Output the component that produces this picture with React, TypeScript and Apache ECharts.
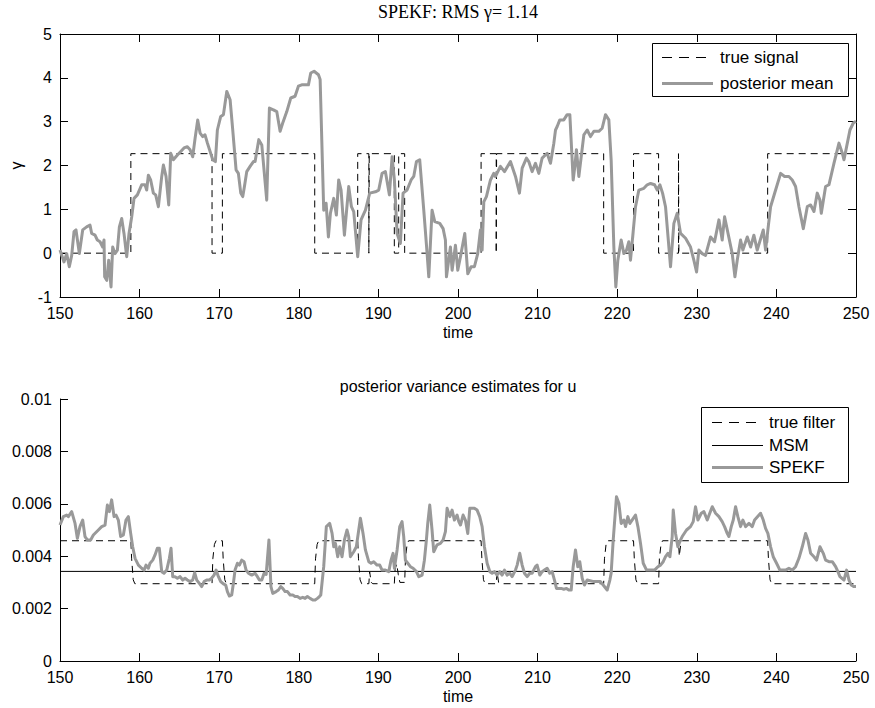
import React, { useEffect, useRef } from "react";
import * as echarts from "echarts";

// ---------- top panel: true signal (step process) ----------
const signalT = [150, 158.9, 158.9, 169.1, 169.1, 170.4, 170.4, 182.0, 182.0, 187.4, 187.4, 188.8, 188.8, 188.85, 188.85, 192.0, 192.0, 192.55, 192.55, 193.3, 193.3, 202.9, 202.9, 204.8, 204.8, 204.85, 204.85, 218.3, 218.3, 222.05, 222.05, 225.2, 225.2, 227.7, 227.7, 227.75, 227.75, 238.9, 238.9, 250];
const signalV = [0, 0, 2.27, 2.27, 0, 0, 2.27, 2.27, 0, 0, 2.27, 2.27, 0, 0, 2.27, 2.27, 0, 0, 2.27, 2.27, 0, 0, 2.27, 2.27, 0, 0, 2.27, 2.27, 0, 0, 2.27, 2.27, 0, 0, 2.27, 2.27, 0, 0, 2.27, 2.27];

// ---------- top panel: posterior mean ----------
const meanT = [
  150.00, 150.50, 150.84, 151.17, 151.47, 151.76, 152.01, 152.43, 152.85, 153.35, 153.77, 153.98, 154.40, 154.69, 155.03, 155.36, 155.53, 155.61, 155.87, 156.12,
  156.41, 156.62, 156.91, 157.21, 157.46, 157.75, 158.04, 158.38, 158.67, 159.01, 159.30, 159.72, 160.26, 160.68, 160.89, 161.10, 161.39, 161.73, 162.02, 162.36,
  162.78, 162.99, 163.32, 163.66, 163.91, 164.24, 164.75, 165.17, 165.58, 166.00, 166.34, 166.67, 166.97, 167.30, 167.60, 167.93, 168.22, 168.52, 169.19, 169.52,
  169.77, 170.19, 170.53, 170.95, 171.37, 171.70, 172.12, 172.41, 172.71, 172.96, 173.17, 173.46, 173.88, 174.30, 174.51, 174.97, 175.35, 175.97, 176.31, 176.81,
  177.23, 177.65, 177.98, 178.49, 178.99, 179.53, 179.95, 180.37, 181.21, 181.50, 181.92, 182.47, 182.68,
  183.13, 183.43, 183.72, 183.97, 184.39, 184.72, 185.01, 185.31, 185.73, 186.27, 186.61, 186.90, 187.40, 187.82, 188.37, 188.91, 189.62, 190.04, 190.46, 190.88,
  191.38, 191.72, 192.01, 192.35, 192.76, 193.10, 193.60, 194.11, 194.44, 194.78, 195.19, 195.70, 196.12, 196.33, 196.74, 197.08, 197.71, 198.13, 198.42, 198.55,
  199.05, 199.26, 199.68, 199.97, 200.31, 200.85, 201.23, 201.65, 202.06, 202.48, 202.82, 203.03, 203.24, 203.57, 204.08, 204.49, 204.70, 205.33, 205.84, 206.59,
  207.22, 207.72, 208.06, 208.60, 208.89, 209.31, 209.73, 210.15, 210.57, 211.20, 211.62, 212.04, 212.25, 212.46, 212.79, 213.29, 213.71, 214.05, 214.47, 214.68,
  214.88, 215.18,
  215.81, 216.23, 216.65, 217.07, 217.69, 218.11, 218.53, 218.95, 219.24, 219.58, 219.83, 220.08, 220.50, 220.84, 221.17, 221.46, 221.67, 222.30, 222.72, 223.35,
  223.77, 224.19, 224.69, 225.03, 225.36, 225.70, 226.07, 226.70, 227.12, 227.54, 227.96, 228.59, 229.21, 229.63, 229.97, 230.26, 230.68, 231.10, 231.73, 232.23,
  232.78, 233.19, 233.49, 234.45, 234.79, 235.08, 235.50, 235.79, 236.34, 236.76, 237.17, 237.59, 238.35, 238.64, 238.93, 239.27, 239.90, 240.53, 241.03, 241.57,
  241.99, 242.41, 242.83, 243.38, 243.88, 244.30, 244.72, 245.13, 245.47, 245.64, 246.18, 246.60, 247.23, 247.86, 248.28, 248.49, 248.91, 249.24, 249.66, 250.00
];
const meanV = [
  0.07, -0.20, -0.01, -0.31, -0.05, 0.49, 0.53, -0.01, 0.53, 0.60, 0.64, 0.45, 0.41, 0.30, 0.26, 0.14, 0.30, -0.54, -0.62, -0.16,
  -0.77, 0.14, -0.01, 0.07, 0.60, 0.79, 0.45, -0.08, 0.45, 0.83, 1.25, 1.33, 1.56, 1.56, 1.44, 1.78, 1.67, 1.37, 1.33, 1.06,
  1.75, 2.01, 1.75, 1.10, 2.28, 2.13, 2.24, 2.32, 2.40, 2.43, 2.36, 2.20, 2.62, 3.04, 2.74, 2.66, 2.70, 2.51, 2.13, 2.09,
  2.81, 3.12, 3.16, 3.69, 3.50, 2.81, 1.90, 1.82, 1.37, 1.29, 1.52, 1.86, 1.98, 2.09, 2.09, 2.59, 2.47, 1.21, 3.31, 3.27,
  3.23, 2.78, 2.97, 3.23, 3.54, 3.58, 3.81, 3.84, 3.84, 4.11, 4.15, 4.07, 3.96,
  0.98, 1.14, 0.37, 0.91, 1.25, 0.87, 1.67, 1.44, 0.41, 1.52, 1.06, 0.95, -0.08, 0.76, 0.98, 1.37, 1.40, 1.44, 1.82, 1.86,
  1.33, 2.20, 1.67, 0.45, 0.22, 1.37, 1.44, 1.67, 1.75, 2.09, 2.13, 0.98, -0.01, -0.54, 0.98, 0.72, 0.68, 0.56, 0.30, -0.54,
  0.14, -0.39, 0.18, -0.39, -0.08, 0.45, -0.47, -0.31, -0.31, -0.01, 0.53, 0.07, 1.17, 1.29, 1.67, 1.82, 1.75, 1.98, 1.86, 2.09,
  1.75, 1.37, 1.94, 2.17, 2.09, 1.86, 2.05, 1.82, 2.17, 2.28, 2.05, 2.51, 2.81, 2.89, 3.04, 3.04, 3.16, 3.16, 1.67, 1.98,
  2.36, 1.75,
  2.70, 2.81, 2.66, 2.78, 2.78, 2.85, 3.16, 3.04, 2.13, 0.14, -0.77, -0.16, 0.30, -0.01, 0.07, 0.26, -0.16, 1.06, 1.44, 1.48,
  1.56, 1.59, 1.56, 1.44, 1.56, 1.37, 1.06, -0.31, 0.68, 0.91, 0.45, 0.34, 0.14, -0.16, -0.43, 0.07, -0.01, -0.05, 0.37, 0.26,
  0.76, 0.30, 0.83, -0.01, -0.54, -0.16, 0.30, 0.07, 0.37, 0.14, 0.41, 0.07, 0.53, 0.07, 0.53, 1.06, 1.44, 1.82, 1.75, 1.75,
  1.67, 1.52, 1.06, 0.56, 1.06, 1.10, 0.95, 1.37, 1.21, 0.91, 1.52, 1.56, 2.05, 2.51, 2.28, 2.13, 2.51, 2.81, 2.97, 3.01
];

// ---------- bottom panel (values in units of 1e-3) ----------
const filterT = [150, 158.9, 159.0, 159.2, 159.4, 169.1, 169.2, 169.4, 169.6, 170.4, 170.5, 170.7, 170.9, 182.0, 182.1, 182.3, 182.5, 187.4, 187.5, 187.7, 187.9,
  188.8, 188.9, 189.1, 189.3, 192.0, 192.1, 192.3, 192.5, 192.7, 193.3, 193.4, 193.6, 193.8, 202.9, 203.0, 203.2, 203.4, 204.8, 204.9, 205.1, 205.3,
  218.3, 218.4, 218.6, 218.8, 222.05, 222.15, 222.35, 222.55, 225.2, 225.3, 225.5, 225.7, 227.7, 227.8, 228.0, 228.2, 238.9, 239.0, 239.2, 239.4, 250];
const filterV = [4.59, 4.59, 3.9, 3.1, 2.95, 2.95, 3.9, 4.45, 4.59, 4.59, 3.9, 3.1, 2.95, 2.95, 3.9, 4.45, 4.59, 4.59, 3.9, 3.1, 2.95,
  2.95, 3.4, 3.0, 2.95, 2.95, 3.5, 3.7, 3.3, 3.0, 3.0, 3.9, 4.45, 4.59, 4.59, 3.9, 3.1, 2.95, 2.95, 3.4, 3.0, 2.95,
  2.95, 3.9, 4.45, 4.59, 4.59, 3.9, 3.1, 2.95, 2.95, 3.9, 4.45, 4.59, 4.59, 4.0, 4.5, 4.59, 4.59, 3.9, 3.1, 2.95, 2.95];
const msmT = [150, 250];
const msmV = [3.42, 3.42];

const spekfT = [
  150.00, 150.42, 150.84, 151.05, 151.47, 151.89, 152.18, 152.51, 152.85, 153.14, 153.43, 153.85, 154.19, 154.82, 155.24, 155.66, 155.95, 156.20, 156.49, 156.79,
  157.04, 157.33, 157.62, 157.96, 158.29, 158.59, 158.88, 159.13, 159.43, 159.85, 160.26, 160.56, 160.81, 161.10, 161.31, 161.65, 161.94, 162.23, 162.48, 162.78,
  163.07, 163.41, 163.74, 163.95, 164.16, 164.45, 164.75, 165.08, 165.42, 165.71, 166.00, 166.34, 166.67, 166.92, 167.18, 167.51, 167.80, 168.10, 168.43, 168.77,
  169.06, 169.35, 169.61, 169.90, 170.19, 170.53, 170.82, 171.03, 171.28, 171.57, 171.78, 171.99, 172.29, 172.54, 172.83, 173.12, 173.38, 173.67, 174.09, 174.51,
  174.80, 175.05, 175.35, 175.64, 175.90, 176.25, 176.50, 176.73, 177.15, 177.44, 177.73, 177.98, 178.28, 178.57, 178.91, 179.24, 179.53, 179.83, 180.16, 180.50,
  180.79, 181.08, 181.42, 181.76, 182.05, 182.34, 182.59, 182.76, 183.13, 183.46, 183.88, 184.18, 184.39, 184.60, 184.89, 185.14, 185.43, 185.73, 186.06, 186.27,
  186.48, 186.90, 187.23, 187.74, 188.07, 188.37, 188.79, 189.08, 189.41, 189.83, 190.17, 190.46, 190.88, 191.30, 191.59, 191.84, 192.01, 192.35, 192.68, 192.97,
  193.18, 193.39, 193.69, 194.02, 194.36, 194.78, 195.07, 195.49, 195.78, 196.03, 196.20, 196.45, 196.74, 196.95, 197.37, 197.79, 198.13, 198.42, 198.63, 198.97,
  199.26, 199.55, 199.89, 200.10, 200.31, 200.64, 200.93, 201.23, 201.48, 201.77, 202.06, 202.40, 202.73, 203.03, 203.32, 203.66, 204.00, 204.29, 204.58, 204.91,
  205.25, 205.54, 205.84, 206.17, 206.50, 206.80, 207.22, 207.43, 207.76, 208.06, 208.35, 208.69, 209.02, 209.31, 209.73, 209.94, 210.28, 210.57, 210.86, 211.20,
  211.53, 211.83, 212.12, 212.37, 212.67, 212.96, 213.29, 213.63, 213.92, 214.22, 214.47, 214.76, 215.05, 215.30, 215.60, 215.89, 216.23, 217.07, 217.90, 218.24,
  218.74, 219.08, 219.24, 219.50, 219.91, 220.21, 220.50, 220.84, 221.05, 221.34, 221.59, 222.30, 222.60, 222.93, 223.27, 223.69, 224.19, 224.69, 225.11, 225.44,
  225.78, 226.07, 226.37, 226.62, 226.91, 227.04, 227.33, 227.62, 227.96, 228.17, 228.71, 229.21, 229.55, 229.84, 230.14, 230.56, 230.89, 231.31, 231.94, 232.36,
  232.78, 233.19, 233.49, 233.82, 234.03, 234.33, 234.58, 234.87, 235.16, 235.50, 235.79, 236.13, 236.55, 236.97, 237.26, 238.01, 238.35, 238.64, 238.93, 239.27,
  239.60, 240.02, 240.44, 240.74, 241.16, 241.57, 241.99, 242.41, 242.83, 243.25, 243.67, 243.96, 244.30, 244.72, 245.05, 245.47, 245.89, 246.18, 246.60, 247.02,
  247.44, 247.73, 247.98, 248.49, 248.82, 249.12, 249.41, 249.75, 250.00
];
const spekfV = [
  5.19, 5.51, 5.57, 5.51, 5.70, 5.25, 4.68, 5.13, 5.38, 4.75, 4.62, 4.62, 4.81, 5.00, 5.13, 5.19, 5.95, 5.70, 6.15, 5.51,
  5.57, 5.38, 4.75, 4.81, 5.38, 5.51, 4.87, 4.36, 3.92, 3.66, 3.54, 3.47, 3.66, 3.54, 3.73, 3.85, 4.05, 4.30, 4.30, 3.41,
  3.35, 3.47, 3.92, 4.30, 3.22, 3.22, 3.16, 3.22, 3.09, 3.16, 3.09, 3.03, 3.09, 3.37, 3.09, 2.96, 2.84, 3.03, 3.09, 3.09,
  3.16, 3.28, 3.47, 3.22, 3.03, 2.94, 2.90, 2.65, 2.48, 2.52, 2.96, 3.47, 3.73, 3.66, 3.85, 3.79, 3.47, 3.35, 3.28, 3.35,
  3.22, 3.09, 3.09, 3.35, 3.30, 4.62, 2.84, 2.58, 2.65, 2.71, 2.84, 2.77, 2.65, 2.65, 2.52, 2.52, 2.46, 2.46, 2.39, 2.43,
  2.39, 2.46, 2.39, 2.33, 2.33, 2.39, 2.46, 2.52, 3.60, 5.13, 5.25, 4.87, 4.36, 4.49, 3.98, 4.36, 3.98, 4.62, 5.00, 4.75,
  3.98, 4.17, 4.36, 5.45, 4.87, 4.24, 3.79, 3.73, 3.79, 3.66, 3.66, 3.47, 3.47, 3.41, 3.85, 4.11, 3.54, 4.24, 5.13, 5.32,
  4.75, 3.85, 3.73, 3.60, 3.54, 3.41, 3.22, 3.28, 3.85, 4.62, 5.25, 5.95, 5.00, 4.17, 4.43, 4.49, 4.62, 4.94, 5.83, 5.51,
  5.76, 5.38, 5.57, 5.32, 5.19, 5.57, 5.38, 4.87, 5.83, 5.83, 5.83, 5.76, 5.51, 5.13, 4.36, 3.73, 3.41, 3.35, 3.41, 3.28,
  3.41, 3.28, 3.47, 3.28, 3.35, 3.22, 3.47, 3.66, 4.11, 3.66, 3.35, 3.22, 3.35, 3.35, 3.60, 3.66, 3.28, 3.41, 3.47, 3.54,
  3.35, 3.41, 3.09, 2.77, 2.77, 2.77, 2.74, 2.77, 2.71, 2.71, 3.60, 4.24, 3.60, 3.79, 3.16, 2.90, 3.09, 3.03, 3.03, 2.90,
  2.71, 3.09, 3.35, 4.62, 6.27, 6.02, 5.25, 5.38, 5.13, 5.51, 5.25, 5.57, 5.13, 4.49, 3.73, 3.47, 3.47, 3.47, 3.60, 3.66,
  3.79, 3.98, 4.11, 3.98, 4.75, 5.76, 4.87, 4.36, 4.62, 4.75, 5.00, 5.13, 5.32, 5.89, 5.38, 5.64, 5.70, 5.38, 5.89, 5.64,
  5.51, 5.32, 5.13, 4.87, 4.75, 5.13, 5.38, 5.89, 5.51, 5.13, 5.38, 5.13, 5.25, 5.13, 5.38, 5.64, 5.38, 5.06, 4.87, 4.36,
  3.98, 3.73, 3.47, 3.47, 3.47, 3.54, 3.47, 3.60, 3.92, 4.36, 4.87, 4.62, 4.11, 3.98, 3.85, 4.36, 4.11, 3.85, 3.79, 3.79,
  3.60, 3.41, 3.22, 3.09, 3.47, 3.09, 2.90, 2.84, 2.84
];

const xTicks = { min: 150, max: 250, interval: 10 };
const topY = { min: -1, max: 5, interval: 1 };
const botY = { min: 0, max: 0.01, interval: 0.002 };

const SANS = '"Liberation Sans", Arial, Helvetica, sans-serif';
const SERIF = '"Liberation Serif", "Times New Roman", serif';
const GRAY = "#999999";

function pairs(t: number[], v: number[], scale = 1) {
  return t.map((x, i) => [x, v[i] * scale]);
}

export default function App() {
  const ref = useRef<HTMLDivElement>(null);

  useEffect(() => {
    if (!ref.current) return;
    const chart = echarts.init(ref.current, undefined, { renderer: "svg" });

    const axisLine = { show: true, onZero: false, lineStyle: { color: "#000", width: 1 } };
    const tick = { show: true, inside: true, length: 8, lineStyle: { color: "#000", width: 1 } };
    const label = { color: "#000", fontSize: 16, fontFamily: SANS, margin: 8 };
    const legendFont = `17px ${SANS}`;
    const textStyle = (text: string, font: string, center = false) => ({
      text, font, fill: "#000",
      textAlign: center ? "center" : "left", align: center ? "center" : "left",
      textVerticalAlign: "middle", verticalAlign: "middle",
    });

    const option: any = {
      animation: false,
      backgroundColor: "#fff",
      grid: [
        { left: 60, top: 34, width: 796, height: 263, containLabel: false },
        { left: 60, top: 399, width: 796, height: 262, containLabel: false },
      ],
      xAxis: [
        {
          type: "value", gridIndex: 0, position: "bottom", ...xTicks,
          axisLine, axisTick: tick, axisLabel: label, splitLine: { show: false },
          name: "time", nameLocation: "middle", nameGap: 27,
          nameTextStyle: { color: "#000", fontSize: 16, fontFamily: SANS },
        },
        {
          type: "value", gridIndex: 0, position: "top", ...xTicks,
          axisLine, axisTick: tick, axisLabel: { show: false }, splitLine: { show: false },
        },
        {
          type: "value", gridIndex: 1, position: "bottom", ...xTicks,
          axisLine, axisTick: tick, axisLabel: label, splitLine: { show: false },
          name: "time", nameLocation: "middle", nameGap: 27,
          nameTextStyle: { color: "#000", fontSize: 16, fontFamily: SANS },
        },
      ],
      yAxis: [
        {
          type: "value", gridIndex: 0, position: "left", ...topY,
          axisLine, axisTick: tick, axisLabel: label, splitLine: { show: false },
          name: "γ", nameLocation: "middle", nameGap: 36, nameRotate: 90,
          nameTextStyle: { color: "#000", fontSize: 16, fontFamily: SANS },
        },
        {
          type: "value", gridIndex: 0, position: "right", ...topY,
          axisLine, axisTick: tick, axisLabel: { show: false }, splitLine: { show: false },
        },
        {
          type: "value", gridIndex: 1, position: "left", ...botY,
          axisLine, axisTick: tick,
          axisLabel: { ...label, formatter: (v: number) => String(parseFloat(v.toFixed(4))) },
          splitLine: { show: false },
        },
      ],
      series: [
        {
          type: "line", xAxisIndex: 0, yAxisIndex: 0, data: pairs(signalT, signalV),
          showSymbol: false, symbol: "none", silent: true,
          lineStyle: { color: "#000", width: 1, type: [7, 5] }, z: 2,
        },
        {
          type: "line", xAxisIndex: 0, yAxisIndex: 0, data: pairs(meanT, meanV),
          showSymbol: false, symbol: "none", silent: true,
          lineStyle: { color: GRAY, width: 3, join: "round" }, z: 3,
        },
        {
          type: "line", xAxisIndex: 2, yAxisIndex: 2, data: pairs(filterT, filterV, 0.001),
          showSymbol: false, symbol: "none", silent: true,
          lineStyle: { color: "#000", width: 1, type: [7, 5] }, z: 2,
        },
        {
          type: "line", xAxisIndex: 2, yAxisIndex: 2, data: pairs(msmT, msmV, 0.001),
          showSymbol: false, symbol: "none", silent: true,
          lineStyle: { color: "#000", width: 1 }, z: 2,
        },
        {
          type: "line", xAxisIndex: 2, yAxisIndex: 2, data: pairs(spekfT, spekfV, 0.001),
          showSymbol: false, symbol: "none", silent: true,
          lineStyle: { color: GRAY, width: 3, join: "round" }, z: 3,
        },
      ],
      graphic: [
        { type: "text", x: 458, y: 12, z: 100, style: textStyle("SPEKF: RMS γ= 1.14", `18px ${SERIF}`, true) },
        { type: "text", x: 458, y: 386, z: 100, style: textStyle("posterior variance estimates for u", `16px ${SANS}`, true) },
        // top legend
        { type: "rect", z: 100, shape: { x: 652.5, y: 43.5, width: 196, height: 53 }, style: { fill: "#fff", stroke: "#000", lineWidth: 1 } },
        { type: "line", z: 101, shape: { x1: 662, y1: 57.5, x2: 713, y2: 57.5 }, style: { stroke: "#000", lineWidth: 1, lineDash: [10, 7] } },
        { type: "line", z: 101, shape: { x1: 662, y1: 83.5, x2: 713, y2: 83.5 }, style: { stroke: GRAY, lineWidth: 3 } },
        { type: "text", z: 101, x: 720, y: 57, style: textStyle("true signal", legendFont) },
        { type: "text", z: 101, x: 720, y: 83, style: textStyle("posterior mean", legendFont) },
        // bottom legend
        { type: "rect", z: 100, shape: { x: 701.5, y: 407.5, width: 147, height: 75 }, style: { fill: "#fff", stroke: "#000", lineWidth: 1 } },
        { type: "line", z: 101, shape: { x1: 712, y1: 422.5, x2: 763, y2: 422.5 }, style: { stroke: "#000", lineWidth: 1, lineDash: [10, 7] } },
        { type: "line", z: 101, shape: { x1: 712, y1: 445.5, x2: 763, y2: 445.5 }, style: { stroke: "#000", lineWidth: 1 } },
        { type: "line", z: 101, shape: { x1: 712, y1: 467.5, x2: 763, y2: 467.5 }, style: { stroke: GRAY, lineWidth: 3 } },
        { type: "text", z: 101, x: 769, y: 422, style: textStyle("true filter", legendFont) },
        { type: "text", z: 101, x: 769, y: 445, style: textStyle("MSM", legendFont) },
        { type: "text", z: 101, x: 769, y: 467, style: textStyle("SPEKF", legendFont) },
      ],
    };

    chart.setOption(option);
    return () => chart.dispose();
  }, []);

  return (
    <div
      ref={ref}
      style={{ position: "fixed", left: 0, top: 0, width: 875, height: 708, background: "#fff" }}
    />
  );
}
